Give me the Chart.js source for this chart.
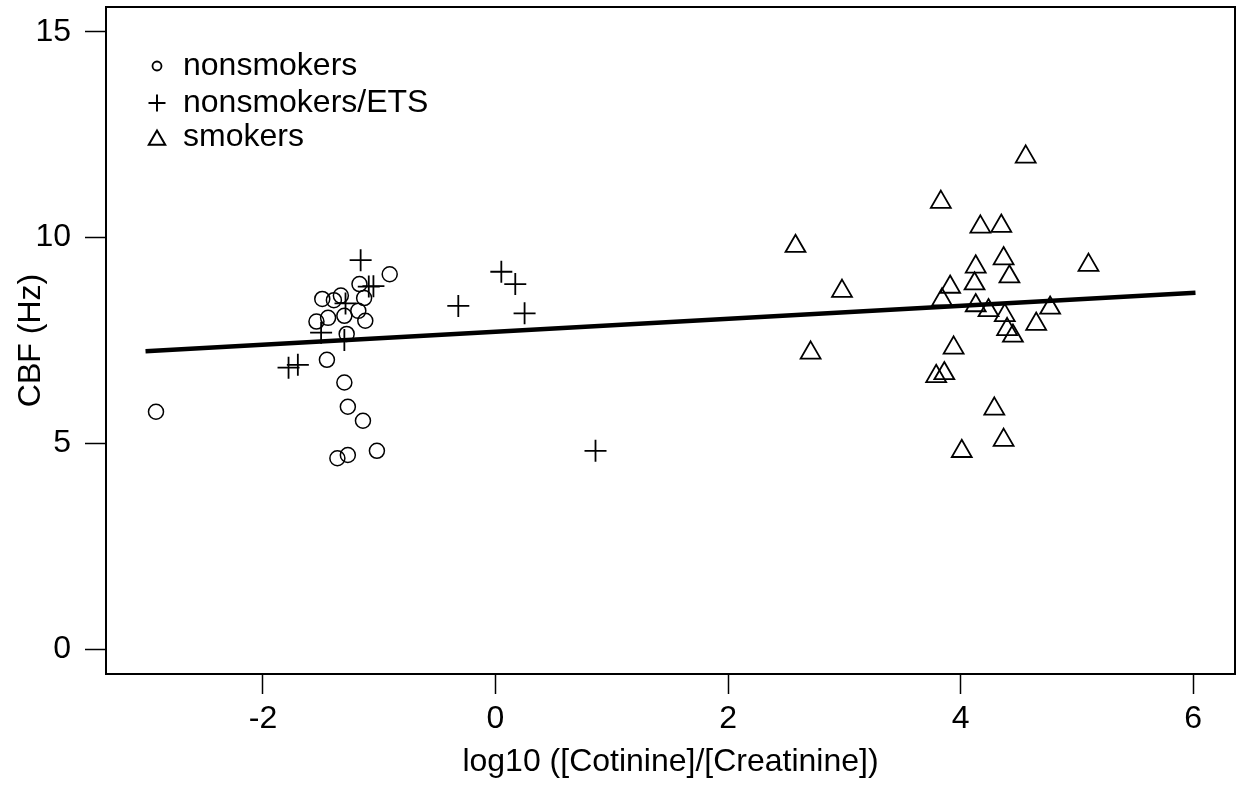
<!DOCTYPE html>
<html>
<head>
<meta charset="utf-8">
<script src="https://cdn.jsdelivr.net/npm/chart.js@4.4.0/dist/chart.umd.min.js"></script>
<style>
  html, body { margin: 0; padding: 0; background: #fff; }
  canvas { display: block; }
</style>
</head>
<body>
<canvas id="cbf-chart" width="1238" height="785"></canvas>
<script>
// values
var xTicks = [-2, 0, 2, 4, 6];
var yTicks = [0, 5, 10, 15];

var nonsmokersX = [-2.92, -0.91, -1.17, -1.49, -1.39, -1.33, -1.13, -1.44, -1.30, -1.18,
                   -1.12, -1.54, -1.28, -1.45, -1.30, -1.27, -1.14, -1.36, -1.27, -1.02];
var nonsmokersY = [5.77, 9.11, 8.87, 8.51, 8.48, 8.59, 8.53, 8.05, 8.10, 8.22,
                   7.98, 7.96, 7.66, 7.03, 6.48, 5.89, 5.55, 4.64, 4.72, 4.82];

var etsX = [-1.16, -1.09, -1.05, -1.29, -1.50, -1.30, -1.78, -1.70, 0.05, 0.17, -0.32, 0.25, 0.86];
var etsY = [9.45, 8.81, 8.82, 8.40, 7.69, 7.51, 6.84, 6.91, 9.17, 8.87, 8.34, 8.16, 4.82];

var smokersX = [4.56, 3.83, 4.17, 4.35, 2.58, 5.10, 4.37, 4.13, 4.42, 4.12, 3.91, 2.98, 3.84, 4.13,
                4.24, 4.77, 4.38, 4.65, 4.40, 4.45, 2.71, 3.94, 3.86, 3.79, 4.29, 4.37, 4.01];
var smokersY = [11.96, 10.86, 10.26, 10.28, 9.79, 9.33, 9.49, 9.29, 9.05, 8.88, 8.80, 8.70, 8.49, 8.35,
                8.23, 8.29, 8.11, 7.90, 7.77, 7.61, 7.20, 7.32, 6.70, 6.63, 5.84, 5.08, 4.81];

// fitted line end points
var fitX = [-3.01, 6.02];
var fitY = [7.24, 8.66];

var legendLabels = ["nonsmokers", "nonsmokers/ETS", "smokers"];

function toPoints(xs, ys) {
  return xs.map(function (x, i) { return { x: x, y: ys[i] }; });
}

var FONT = "Arial, 'Liberation Sans', Helvetica, sans-serif";
var FS = 32;

// no extra room for overhanging tick labels, keep the box where it is
function noPad(scale) {
  scale.paddingLeft = 0;
  scale.paddingRight = 0;
  scale.paddingTop = 0;
  scale.paddingBottom = 0;
}

// box round the plot + legend in the top left corner
var framePlugin = {
  id: "frame",
  afterDraw: function (chart) {
    var a = chart.chartArea;
    var ctx = chart.ctx;
    ctx.save();
    ctx.strokeStyle = "#000";
    ctx.lineWidth = 2;
    ctx.strokeRect(a.left, a.top, a.right - a.left, a.bottom - a.top);

    var styles = [
      { pointStyle: "circle", radius: 4.5, borderWidth: 1.8 },
      { pointStyle: "cross", radius: 8.5, borderWidth: 2 },
      { pointStyle: "triangle", radius: 9.5, borderWidth: 2 }
    ];
    var rows = [59, 96, 130];
    ctx.font = FS + "px " + FONT;
    ctx.textBaseline = "middle";
    for (var i = 0; i < legendLabels.length; i++) {
      ctx.strokeStyle = "#000";
      ctx.fillStyle = "rgba(0,0,0,0)";
      ctx.lineWidth = styles[i].borderWidth;
      Chart.helpers.drawPoint(ctx, {
        pointStyle: styles[i].pointStyle,
        radius: styles[i].radius,
        rotation: 0,
        borderWidth: styles[i].borderWidth
      }, a.left + 51, a.top + rows[i] + (i === 2 ? 3 : 0));
      ctx.fillStyle = "#000";
      ctx.fillText(legendLabels[i], a.left + 77, a.top + rows[i]);
    }
    ctx.restore();
  }
};

new Chart(document.getElementById("cbf-chart"), {
  type: "scatter",
  data: {
    datasets: [
      {
        type: "line",
        label: "fit",
        data: toPoints(fitX, fitY),
        borderColor: "#000",
        borderWidth: 4.5,
        pointRadius: 0,
        fill: false,
        order: 0
      },
      {
        label: legendLabels[0],
        data: toPoints(nonsmokersX, nonsmokersY),
        pointStyle: "circle",
        pointRadius: 7.5,
        borderColor: "#000",
        backgroundColor: "rgba(0,0,0,0)",
        pointBorderWidth: 1.5,
        order: 1
      },
      {
        label: legendLabels[1],
        data: toPoints(etsX, etsY),
        pointStyle: "cross",
        pointRadius: 11,
        borderColor: "#000",
        pointBorderWidth: 1.8,
        order: 1
      },
      {
        label: legendLabels[2],
        data: toPoints(smokersX, smokersY),
        pointStyle: "triangle",
        pointRadius: 11.5,
        borderColor: "#000",
        backgroundColor: "rgba(0,0,0,0)",
        pointBorderWidth: 1.8,
        order: 1
      }
    ]
  },
  options: {
    responsive: false,
    animation: false,
    layout: { autoPadding: false, padding: { left: 0, top: 7, right: 3, bottom: 0 } },
    plugins: {
      legend: { display: false },
      tooltip: { enabled: false }
    },
    scales: {
      x: {
        type: "linear",
        min: -3.35,
        max: 6.36,
        afterBuildTicks: function (scale) {
          scale.ticks = xTicks.map(function (v) { return { value: v }; });
        },
        afterFit: function (scale) { scale.height = 111; noPad(scale); },
        grid: {
          drawOnChartArea: false,
          drawTicks: true,
          tickLength: 20,
          tickWidth: 1.5,
          tickColor: "#000"
        },
        border: { display: false },
        ticks: {
          color: "#000",
          padding: 6,
          maxRotation: 0,
          font: { family: FONT, size: FS }
        },
        title: {
          display: true,
          text: "log10 ([Cotinine]/[Creatinine])",
          color: "#000",
          padding: { top: 0, bottom: 4 },
          font: { family: FONT, size: FS }
        }
      },
      y: {
        type: "linear",
        min: -0.6,
        max: 15.6,
        afterBuildTicks: function (scale) {
          scale.ticks = yTicks.map(function (v) { return { value: v }; });
        },
        afterFit: function (scale) { scale.width = 106; noPad(scale); },
        grid: {
          drawOnChartArea: false,
          drawTicks: true,
          tickLength: 21,
          tickWidth: 1.5,
          tickColor: "#000"
        },
        border: { display: false },
        ticks: {
          color: "#000",
          padding: 14,
          font: { family: FONT, size: FS }
        },
        title: {
          display: true,
          text: "CBF (Hz)",
          color: "#000",
          padding: { top: 12, bottom: 0 },
          font: { family: FONT, size: FS }
        }
      }
    }
  },
  plugins: [framePlugin]
});
</script>
</body>
</html>
